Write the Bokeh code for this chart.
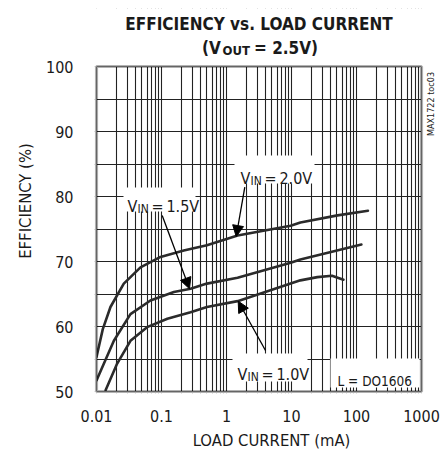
import math
from bokeh.plotting import figure
from bokeh.models import (Label, Range1d, FixedTicker, Arrow, NormalHead, BoxAnnotation)
from bokeh.embed import file_html
from bokeh.resources import INLINE

# ---------------- data ----------------
x_ticks = [0.01, 0.1, 1, 10, 100, 1000]
x_tick_labels = ["0.01", "0.1", "1", "10", "100", "1000"]
y_ticks = [50, 60, 70, 80, 90, 100]
y_minor = [55, 65, 75, 85, 95]

i_20 = [0.01, 0.0125, 0.0164, 0.0263, 0.0475, 0.0966, 0.22, 0.5, 1.48, 9.7, 13.7, 51, 150]
eff_20 = [55.3, 59.6, 63.0, 66.6, 69.1, 70.7, 71.7, 72.5, 74.0, 75.5, 76.0, 77.1, 77.8]

i_15 = [0.01, 0.0185, 0.0333, 0.0676, 0.155, 0.28, 0.5, 1.48, 9.7, 13.7, 119]
eff_15 = [51.7, 57.8, 61.9, 64.0, 65.3, 65.8, 66.6, 67.5, 69.8, 70.3, 72.6]

i_10 = [0.0138, 0.0208, 0.0333, 0.060, 0.123, 0.28, 0.5, 1.48, 9.7, 13.7, 25, 42, 63]
eff_10 = [50.2, 54.3, 57.8, 59.9, 61.2, 62.2, 63.0, 63.9, 66.6, 67.1, 67.6, 67.8, 67.2]

FONT = "DejaVu Sans Condensed"
INK = "#1a1a1a"

W, H = 448, 454
# chart box in page pixels (used for annotation placement and ranges)
BL, BT, BR, BB = 96, 66, 421, 391
PPD = (BR - BL) / 5.0      # pixels per decade
PPU = (BB - BT) / 50.0     # pixels per percent
PAD = 2                    # frame extends 2px left/below the chart box so the border is not clipped
FL, FB = BL - PAD, BB + PAD
FT = 8                     # frame top (title area lies inside the frame)

def px2x(px):
    return 10 ** ((px - BL) / PPD - 2)
def py2y(py):
    return 100 - (py - BT) / PPU

p = figure(width=W, height=H, x_axis_type="log",
           x_range=Range1d(px2x(FL), px2x(W)), y_range=Range1d(py2y(FB), py2y(FT)),
           output_backend="svg", toolbar_location=None, title_location=None,
           min_border_left=FL, min_border_top=FT,
           min_border_right=0, min_border_bottom=H - FB)

p.background_fill_color = "white"
p.border_fill_color = "white"
p.outline_line_color = None

minor_x = [m * 10 ** e for e in range(-2, 3) for m in range(2, 10)]
p.xaxis.ticker = FixedTicker(ticks=x_ticks, minor_ticks=minor_x)
p.yaxis.ticker = FixedTicker(ticks=y_ticks, minor_ticks=y_minor)
p.xaxis.major_label_overrides = {t: l for t, l in zip(x_ticks, x_tick_labels)}
p.xaxis.bounds = (x_ticks[0], x_ticks[-1])
p.yaxis.bounds = (y_ticks[0], y_ticks[-1])

for ax in (p.xaxis, p.yaxis):
    ax.axis_line_color = None
    ax.major_tick_line_color = None
    ax.minor_tick_line_color = None
    ax.major_tick_out = 0
    ax.major_tick_in = 0
    ax.major_label_text_font = FONT
    ax.major_label_text_font_size = "16px"
    ax.major_label_text_color = INK
    ax.axis_label_text_font = FONT
    ax.axis_label_text_font_size = "16.5px"
    ax.axis_label_text_font_style = "normal"
    ax.axis_label_text_color = INK

p.yaxis.major_label_standoff = 17
p.xaxis.major_label_standoff = 12
p.xaxis.axis_label = "LOAD CURRENT (mA)"
p.yaxis.axis_label = "EFFICIENCY (%)"
p.xaxis.axis_label_standoff = 6
p.yaxis.axis_label_standoff = 8

for g in (p.xgrid, p.ygrid):
    g.grid_line_color = "#222222"
    g.grid_line_width = 1.1
    g.grid_line_alpha = 1
    g.minor_grid_line_color = "#222222"
    g.minor_grid_line_width = 1.1

# curves
for xs, ys in ((i_20, eff_20), (i_15, eff_15), (i_10, eff_10)):
    p.line(xs, ys, line_color="#2b2b2b", line_width=2.6, line_join="round", line_cap="round")

def box(**kw):
    p.add_layout(BoxAnnotation(fill_color="white", fill_alpha=1, line_color=None, level="annotation", **kw))

# blank the extra frame area outside the chart box
FAR_LO, FAR_HI = 1e-9, 1e9
box(bottom=y_ticks[-1], top=1000, left=FAR_LO, right=FAR_HI)
box(left=x_ticks[-1], right=FAR_HI, bottom=-1000, top=1000)
box(right=x_ticks[0], left=FAR_LO, bottom=-1000, top=1000)
box(top=y_ticks[0], bottom=-1000, left=FAR_LO, right=FAR_HI)

# white boxes behind in-chart labels
for (l, r, t, b) in ((234, 314, 155, 183), (123, 195, 187, 211), (232, 307, 353, 381), (330, 419, 358, 387)):
    box(left=px2x(l), right=px2x(r), top=py2y(t), bottom=py2y(b))

# chart border
p.add_layout(BoxAnnotation(left=x_ticks[0], right=x_ticks[-1], bottom=y_ticks[0], top=y_ticks[-1],
                           fill_alpha=0, line_color="black", line_width=3.2, level="annotation"))

def txt(px, py, text, size, bold=False, align="left", angle=0, baseline="alphabetic"):
    p.add_layout(Label(x=px, y=py, x_units="canvas", y_units="canvas", text=text, text_font=FONT,
                       text_font_size=f"{size}px", text_color=INK,
                       text_font_style="bold" if bold else "normal",
                       text_align=align, text_baseline=baseline, angle=angle))

def vin(px, py, rest):
    txt(px, py, "V", 16)
    txt(px + 10, py + 2.5, "IN", 12)
    txt(px + 24, py, rest, 16)

vin(240, 177.5, "=\u20092.0V")
vin(127, 205.5, "=\u20091.5V")
vin(237, 373.5, "=\u20091.0V")
txt(337, 380.5, "L = DO1606", 13.5)

# arrows
for (x0, y0, x1, y1) in ((244.3, 186.7, 235.7, 236.0), (161.7, 215.0, 189.0, 288.3), (265.0, 350.0, 237.7, 300.7)):
    p.add_layout(Arrow(x_start=px2x(x0), y_start=py2y(y0), x_end=px2x(x1), y_end=py2y(y1),
                       line_color="black", line_width=1.3,
                       end=NormalHead(size=11, fill_color="black", line_color="black")))

# titles
txt(258.5, 23, "EFFICIENCY vs. LOAD CURRENT", 17, bold=True, align="center")
txt(201.5, 47, "(V", 17, bold=True)
txt(222, 49.5, "OUT", 13, bold=True)
txt(253.5, 47, "= 2.5V)", 17, bold=True)

# side note
txt(430.5, 103.5, "MAX1722 toc03", 9, align="center", angle=math.pi / 2, baseline="middle")

open("out.html", "w").write(file_html(p, INLINE))
